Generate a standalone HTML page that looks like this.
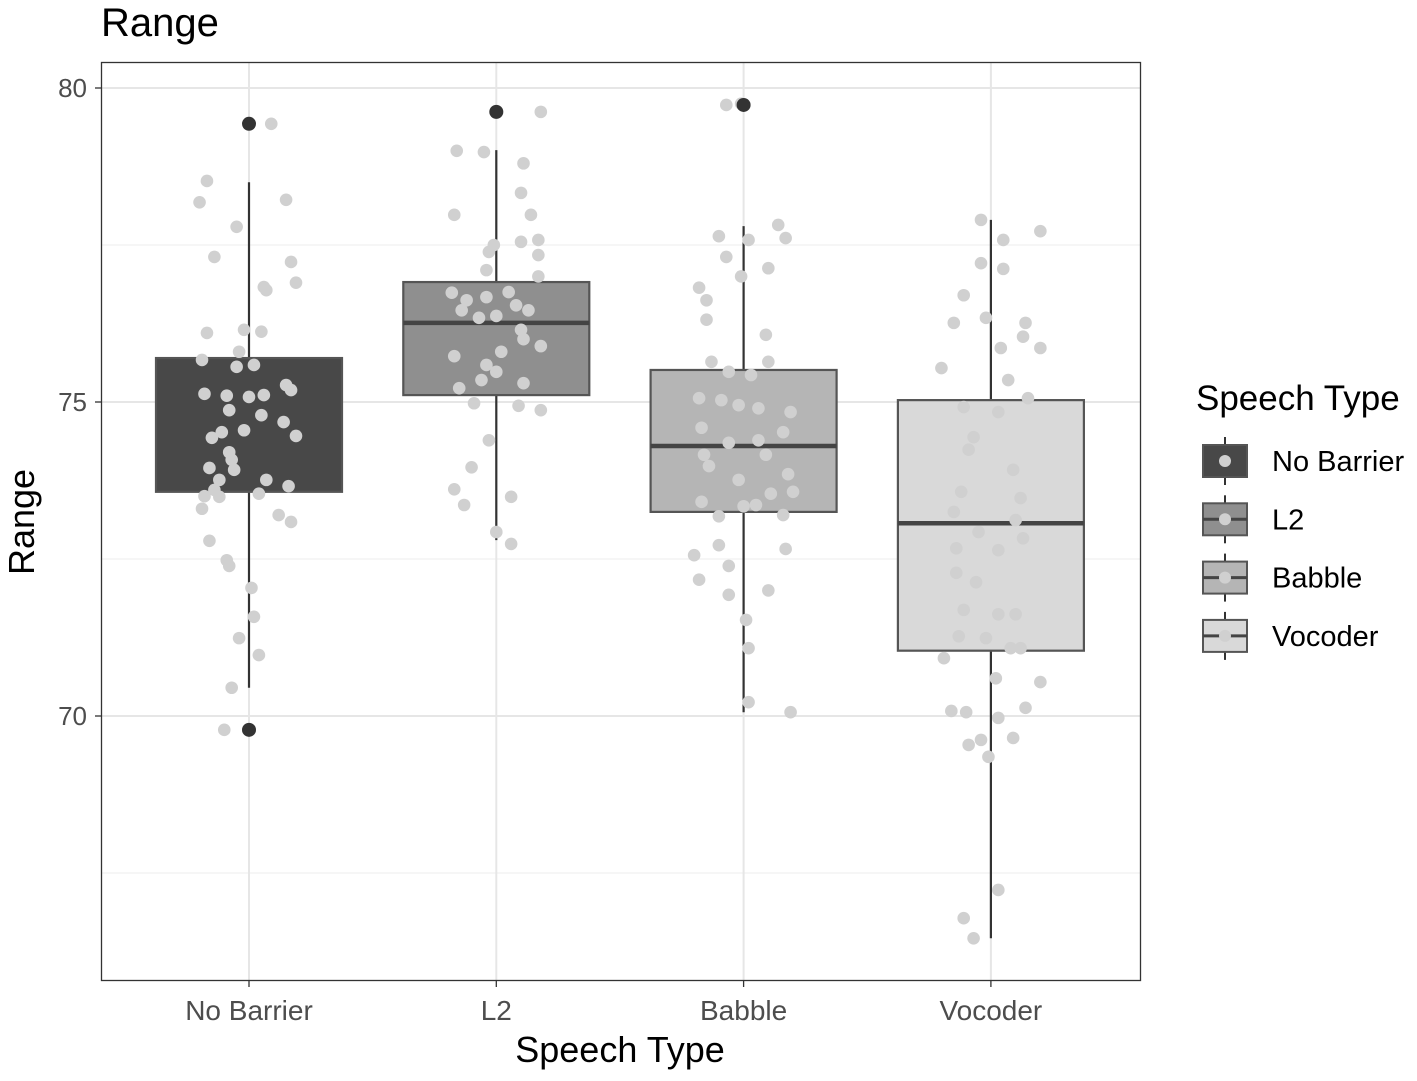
<!DOCTYPE html>
<html><head><meta charset="utf-8"><style>
body{margin:0;background:#fff;}
svg{display:block;font-family:"Liberation Sans",sans-serif;}
</style></head><body>
<svg id="c" width="1417" height="1081" viewBox="0 0 1417 1081">
<text x="101" y="36" font-size="40" fill="#000">Range</text>
<g id="grid"></g>
<g id="plot"></g>
<g id="outl"></g>
<rect x="101.5" y="62.5" width="1039" height="918" fill="none" stroke="#333" stroke-width="1.3"/>
<g id="axes"></g>
<text x="620" y="1062" font-size="36" text-anchor="middle" fill="#000">Speech Type</text>
<text transform="translate(34,522) rotate(-90)" font-size="36" text-anchor="middle" fill="#000">Range</text>
<g id="legend"></g>
</svg>
<script>
const categories=["No Barrier","L2","Babble","Vocoder"];
const fills=["#484848","#8f8f8f","#b5b5b5","#d9d9d9"];
const q1=[73.57,75.11,73.25,71.04];
const med=[null,76.26,74.30,73.07];
const q3=[75.70,76.91,75.51,75.03];
const wLo=[70.45,72.80,70.06,66.46];
const wHi=[78.50,79.01,77.80,77.90];
const outliers=[[79.43,69.78],[79.62],[79.73],[]];
const yTicks=[70,75,80];
const yMinor=[67.5,72.5,77.5];
// jitter points: [offset fraction of category band, value]
const pts0=[[-0.2,78.18],[-0.17,78.52],[-0.05,77.79],[-0.14,77.31],[0.09,79.43],[0.15,78.22],[0.17,77.23],[0.19,76.9],[0.07,76.78],[0.06,76.83],[-0.17,76.1],[-0.02,76.15],[0.05,76.12],[-0.04,75.8],[-0.19,75.67],[-0.05,75.56],[0.02,75.59],[-0.18,75.13],[-0.09,75.1],[0,75.08],[0.06,75.11],[0.15,75.27],[0.17,75.19],[-0.08,74.87],[0.05,74.79],[0.14,74.68],[0.19,74.46],[-0.15,74.43],[-0.11,74.52],[-0.02,74.55],[-0.08,74.2],[-0.07,74.08],[-0.16,73.95],[-0.06,73.92],[-0.12,73.76],[-0.14,73.6],[0.04,73.54],[-0.18,73.5],[-0.12,73.49],[0.16,73.66],[0.07,73.76],[-0.19,73.3],[0.12,73.2],[0.17,73.09],[-0.16,72.79],[-0.09,72.48],[-0.08,72.39],[0.01,72.04],[0.02,71.58],[-0.04,71.24],[0.04,70.97],[-0.07,70.45],[-0.1,69.78]];
const pts1=[[0.18,79.62],[-0.16,79.0],[-0.05,78.98],[0.11,78.8],[0.1,78.33],[0.14,77.98],[-0.17,77.98],[-0.01,77.5],[0.17,77.58],[-0.03,77.39],[0.17,77.34],[0.1,77.55],[-0.04,77.1],[0.17,77.0],[-0.18,76.74],[-0.12,76.62],[-0.04,76.67],[0.05,76.75],[0.08,76.54],[0.13,76.46],[-0.14,76.46],[-0.07,76.34],[0,76.37],[0.1,76.15],[0.18,75.89],[-0.17,75.73],[0.02,75.8],[0.11,76.0],[-0.04,75.59],[0,75.48],[-0.06,75.35],[0.11,75.3],[-0.15,75.22],[-0.09,74.98],[0.09,74.94],[0.18,74.87],[-0.03,74.39],[-0.1,73.96],[-0.17,73.61],[-0.13,73.36],[0.06,73.49],[0,72.93],[0.06,72.74]];
const pts2=[[-0.07,79.73],[-0.01,79.75],[0.14,77.82],[0.17,77.61],[-0.1,77.64],[0.02,77.58],[0.1,77.13],[-0.07,77.31],[-0.01,77.0],[-0.18,76.82],[-0.15,76.62],[-0.15,76.31],[0.09,76.07],[-0.13,75.64],[0.1,75.64],[-0.06,75.48],[0.03,75.43],[-0.18,75.06],[-0.09,75.03],[-0.02,74.95],[0.06,74.9],[0.19,74.84],[-0.17,74.59],[-0.06,74.35],[0.06,74.39],[0.16,74.52],[-0.16,74.16],[0.09,74.16],[-0.14,73.98],[0.18,73.85],[-0.02,73.76],[0.11,73.54],[0.2,73.57],[-0.17,73.41],[0,73.34],[0.05,73.36],[-0.1,73.18],[0.16,73.2],[-0.1,72.72],[0.17,72.66],[-0.2,72.56],[-0.06,72.39],[-0.18,72.17],[0.1,72.0],[-0.06,71.93],[0.01,71.53],[0.02,71.08],[0.02,70.22],[0.19,70.06]];
const pts3=[[-0.04,77.9],[0.2,77.72],[0.05,77.58],[-0.04,77.21],[0.05,77.12],[-0.11,76.7],[-0.02,76.34],[-0.15,76.26],[0.14,76.26],[0.13,76.04],[0.2,75.86],[0.04,75.86],[0.07,75.35],[-0.2,75.54],[0.15,75.06],[-0.11,74.92],[0.03,74.84],[-0.07,74.44],[-0.09,74.24],[0.09,73.92],[-0.12,73.57],[0.12,73.47],[-0.15,73.25],[0.1,73.12],[-0.05,72.93],[0.13,72.83],[-0.14,72.67],[0.03,72.64],[-0.14,72.28],[-0.06,72.13],[-0.11,71.69],[0.03,71.62],[0.1,71.62],[-0.13,71.27],[-0.02,71.24],[0.12,71.08],[0.08,71.08],[-0.19,70.92],[0.02,70.6],[0.2,70.54],[-0.16,70.08],[-0.1,70.06],[0.14,70.13],[0.03,69.97],[-0.04,69.62],[0.09,69.65],[-0.09,69.54],[-0.01,69.35],[0.03,67.23],[-0.11,66.78],[-0.07,66.46]];
const points=[pts0,pts1,pts2,pts3];

const NS="http://www.w3.org/2000/svg";
const X0=101,X1=1140;
function xs(i){return 249+i*247.3;}
function ys(v){return 402-(v-75)*62.8;}
function mk(parent,tag,attrs){const e=document.createElementNS(NS,tag);for(const k in attrs)e.setAttribute(k,attrs[k]);(typeof parent==="string"?document.getElementById(parent):parent).appendChild(e);return e;}
const bw=186;
yMinor.forEach(v=>{const e=mk("grid","line",{x1:X0,x2:X1,y1:ys(v),y2:ys(v),stroke:"#f0f0f0","stroke-width":1.2});

});
yTicks.forEach(v=>{const e=mk("grid","line",{x1:X0,x2:X1,y1:ys(v),y2:ys(v),stroke:"#e6e6e6","stroke-width":2});


const t=mk("axes","text",{x:X0-14,y:ys(v)+9,"font-size":26,"text-anchor":"end",fill:"#4d4d4d"});t.textContent=v;


const tk=mk("axes","line",{x1:X0-6,x2:X0,y1:ys(v),y2:ys(v),stroke:"#333","stroke-width":1.3});

});
categories.forEach((c,i)=>{const e=mk("grid","line",{x1:xs(i),x2:xs(i),y1:62,y2:981,stroke:"#e6e6e6","stroke-width":2});


const t=mk("axes","text",{x:xs(i),y:1020,"font-size":28,"text-anchor":"middle",fill:"#4d4d4d"});t.textContent=c;


const tk=mk("axes","line",{x1:xs(i),x2:xs(i),y1:981,y2:987,stroke:"#333","stroke-width":1.3});

});
categories.forEach((c,i)=>{
 const g=mk("plot","g",{});
 
 
 const x=xs(i);
 mk(g,"line",{x1:x,x2:x,y1:ys(wHi[i]),y2:ys(q3[i]),stroke:"#333","stroke-width":2.2});
 mk(g,"line",{x1:x,x2:x,y1:ys(q1[i]),y2:ys(wLo[i]),stroke:"#333","stroke-width":2.2});
 mk(g,"rect",{x:x-bw/2,y:ys(q3[i]),width:bw,height:ys(q1[i])-ys(q3[i]),fill:fills[i],stroke:"#555","stroke-width":2.2});
 if(med[i]!==null)mk(g,"line",{x1:x-bw/2,x2:x+bw/2,y1:ys(med[i]),y2:ys(med[i]),stroke:"#444","stroke-width":4.5});
 outliers[i].forEach(v=>{const o=mk("outl","circle",{cx:x,cy:ys(v),r:7,fill:"#333"});
 
 });
});
points.forEach((arr,i)=>arr.forEach(p=>{const e=mk("plot","circle",{cx:xs(i)+p[0]*247.3,cy:ys(p[1]),r:6.3,fill:"#d0d0d0"});

}));
const lt=mk("legend","text",{x:1196,y:410,"font-size":35,fill:"#000"});lt.textContent="Speech Type";


categories.forEach((c,i)=>{
 const cy=461+i*58.3;
 const g=mk("legend","g",{});
 
 
 mk(g,"line",{x1:1225,x2:1225,y1:cy-24,y2:cy+24,stroke:"#333","stroke-width":2});
 mk(g,"rect",{x:1203,y:cy-16,width:44,height:32,fill:fills[i],stroke:"#555","stroke-width":2});
 if(i>0)mk(g,"line",{x1:1203,x2:1247,y1:cy,y2:cy,stroke:"#444","stroke-width":3});
 mk(g,"circle",{cx:1225,cy:cy,r:6,fill:"#d0d0d0"});
 const t=mk(g,"text",{x:1272,y:cy+10,"font-size":29,fill:"#000"});t.textContent=c;
});
</script>
</body></html>
